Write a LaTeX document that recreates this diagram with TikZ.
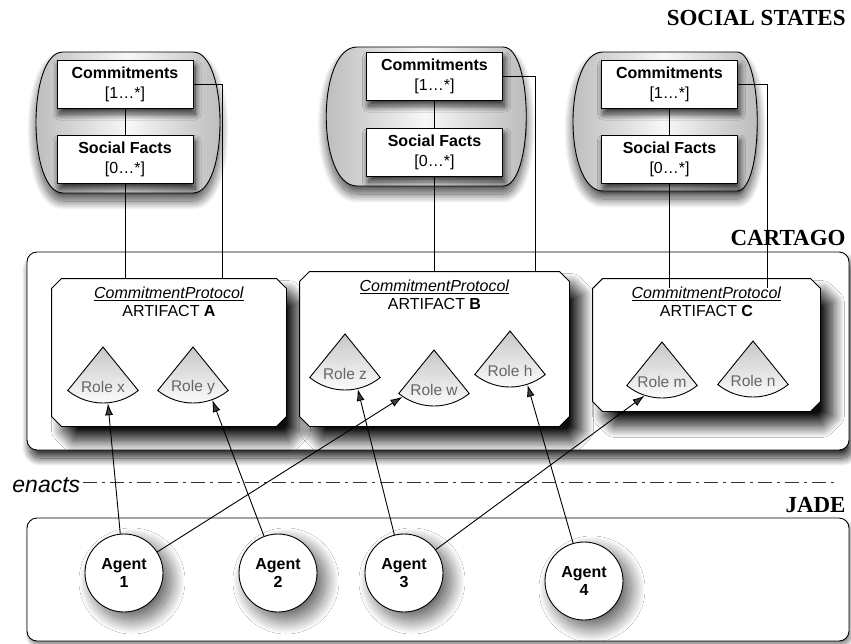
\documentclass[tikz,border=0pt]{standalone}
\usepackage{fontspec}
\setmainfont{Liberation Serif}
\setsansfont{Liberation Sans}
\usetikzlibrary{positioning,arrows.meta,shadows.blur}

\tikzset{
  platform/.style={draw, fill=white, rounded corners=10pt},
  layername/.style={anchor=base east, inner sep=0, font=\bfseries\fontsize{23}{25}\selectfont},
  stategroup/.style={draw, left color=black!28, right color=black!28, middle color=black!3,
    blur shadow={shadow xshift=0pt, shadow yshift=-8pt, shadow blur radius=9pt, shadow blur steps=30, shadow opacity=70}},
  statebox/.style={draw, fill=white, minimum width=136pt, minimum height=48pt, inner sep=0,
    align=center, font=\sffamily\fontsize{16}{20}\selectfont,
    blur shadow={shadow xshift=2pt, shadow yshift=-6pt, shadow blur radius=6pt, shadow blur steps=25, shadow opacity=80}},
  artbase/.style={rectangle, inner sep=0},
  artifact/.style={draw, fill=white,
    blur shadow={shadow xshift=12pt, shadow yshift=-14pt, shadow blur radius=12pt, shadow blur steps=40, shadow opacity=95}},
  arttext/.style={align=center, inner sep=0, font=\sffamily\fontsize{16}{18}\selectfont},
  roledot/.style={circle, minimum size=112pt, inner sep=0},
  wedge/.style={draw, top color=black!22, bottom color=white},
  roletext/.style={inner sep=0, text=black!60, font=\sffamily\fontsize{15.5}{16}\selectfont},
  agent/.style={circle, draw, fill=white, minimum size=78pt, inner sep=0, align=center,
    font=\sffamily\bfseries\fontsize{16}{18}\selectfont,
    blur shadow={shadow xshift=8pt, shadow yshift=-8pt, shadow blur radius=14pt, shadow blur steps=40, shadow opacity=65}},
  enact/.style={-{Latex[length=12pt,width=8pt]}},
  dashdot/.style={black!80, dash pattern=on 14pt off 5pt on 3pt off 5pt}
}

% name, apex x, apex y, label
\newcommand{\rolewedge}[4]{%
  \node[roledot] (#1) at (#2,#3) {};
  \draw[wedge] (#1.center) -- ++(51:56) arc (51:129:56) -- cycle;
  \node[roletext] (#1-t) at (#2,#3+40) {#4};
}
% chamfered outline round a named node
\newcommand{\artifactbox}[1]{%
  \draw[artifact] ([xshift=10pt]#1.north west) -- ([xshift=-10pt]#1.north east) -- ([yshift=-10pt]#1.north east)
    -- ([yshift=10pt]#1.south east) -- ([xshift=-10pt]#1.south east) -- ([xshift=10pt]#1.south west)
    -- ([yshift=10pt]#1.south west) -- ([yshift=-10pt]#1.north west) -- cycle;
}

\begin{document}
\begin{tikzpicture}[x=1pt,y=-1pt,line width=0.9pt]
\useasboundingbox (0,0) rectangle (851,643);

\begin{scope}
\draw[stategroup] (63,52) -- (193,52) .. controls (229,52) and (229,193) .. (193,193) -- (63,193) .. controls (27,193) and (27,52) .. (63,52) -- cycle;
\draw[stategroup] (357,47) -- (503,47) .. controls (534,47) and (534,186) .. (503,186) -- (357,186) .. controls (316,186) and (316,47) .. (357,47) -- cycle;
\draw[stategroup] (603,52) -- (737,52) .. controls (764,52) and (764,191) .. (737,191) -- (603,191) .. controls (563,191) and (563,52) .. (603,52) -- cycle;
\end{scope}

\begin{scope}
\node[statebox] (comA) at (125,84) {\textbf{Commitments}\\{}[1…*]};
\node[statebox] (sfA) at (125,159.5) {\textbf{Social Facts}\\{}[0…*]};
\node[statebox] (comB) at (434.5,76) {\textbf{Commitments}\\{}[1…*]};
\node[statebox] (sfB) at (434.5,152) {\textbf{Social Facts}\\{}[0…*]};
\node[statebox] (comC) at (669.5,84) {\textbf{Commitments}\\{}[1…*]};
\node[statebox] (sfC) at (669.5,159) {\textbf{Social Facts}\\{}[0…*]};
\draw (comA) -- (sfA); \draw (comB) -- (sfB); \draw (comC) -- (sfC);
\end{scope}

\node[layername] (social) at (846,25) {SOCIAL STATES};

% CARTAGO
\draw[platform, blur shadow={shadow xshift=3pt, shadow yshift=-8pt, shadow blur radius=8pt, shadow blur steps=30, shadow opacity=85}] (27,252) rectangle (849,450);
\node[layername] (cartago) at (846,245) {CARTAGO};

\node[artbase, minimum width=234pt, minimum height=147pt] (artA) at (169,352.5) {};
\node[artbase, minimum width=269pt, minimum height=154pt] (artB) at (434.5,349) {};
\node[artbase, minimum width=227pt, minimum height=132pt] (artC) at (706.5,345) {};
\artifactbox{artA} \artifactbox{artB} \artifactbox{artC}
\node[arttext] (artA-t) at ([yshift=-23.5pt]artA.north) {\underline{\textit{CommitmentProtocol}}\\ARTIFACT \textbf{A}};
\node[arttext] (artB-t) at ([yshift=-23.5pt]artB.north) {\underline{\textit{CommitmentProtocol}}\\ARTIFACT \textbf{B}};
\node[arttext] (artC-t) at ([yshift=-23.5pt]artC.north) {\underline{\textit{CommitmentProtocol}}\\ARTIFACT \textbf{C}};

\rolewedge{rx}{103}{347}{Role x}
\rolewedge{ry}{193}{347}{Role y}
\rolewedge{rz}{345}{334}{Role z}
\rolewedge{rw}{434}{350}{Role w}
\rolewedge{rh}{510}{331}{Role h}
\rolewedge{rm}{662}{342}{Role m}
\rolewedge{rn}{753}{341}{Role n}

\begin{scope}
\draw (sfA) -- (sfA |- artA.north);
\draw (comA.east) -| ([xshift=53pt]artA.north);
\draw (sfB) -- (sfB |- artB.north);
\draw (comB.east) -| ([xshift=100.5pt]artB.north);
\draw (sfC) -- ([yshift=-9pt]sfC |- artC.north);
\draw (comC.east) -| ([xshift=60.5pt,yshift=-9pt]artC.north);
\end{scope}

% enacts
\node[anchor=base west, inner sep=0, font=\sffamily\itshape\fontsize{23}{24}\selectfont] (enacts) at (12,492) {enacts};
\coordinate (enactsend) at (838,482);
\draw[dashdot] ([xshift=2pt]enacts.east |- enactsend) -- (enactsend);

% JADE
\draw[platform, blur shadow={shadow xshift=2pt, shadow yshift=-4pt, shadow blur radius=4pt, shadow blur steps=20, shadow opacity=50}] (27,518) rectangle (849,641);
\node[layername] (jade) at (846,512) {JADE};

\node[agent] (a1) at (124,573) {Agent\\1};
\node[agent] (a2) at (278,573) {Agent\\2};
\node[agent] (a3) at (404,573) {Agent\\3};
\node[agent] (a4) at (584,581) {Agent\\4};

\draw[enact] (a1) -- (rx.-85);
\draw[enact] (a1) -- (rw.-124);
\draw[enact] (a2) -- (ry.-70);
\draw[enact] (a3) -- (rz.-77);
\draw[enact] (a3) -- (rm.-108);
\draw[enact] (a4) -- (rh.-72);
\end{tikzpicture}
\end{document}
